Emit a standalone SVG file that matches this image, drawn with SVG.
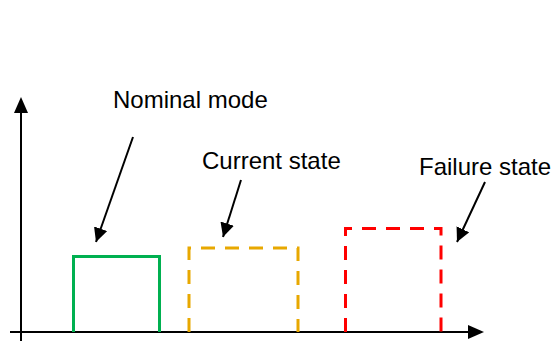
<svg xmlns="http://www.w3.org/2000/svg" width="552" height="341" viewBox="0 0 552 341">
<style>
.lbl{font-family:"Liberation Sans",Arial,sans-serif;font-size:24px;fill:#000}
.ax{stroke:#000;stroke-width:2;fill:none}
.ptr{stroke:#000;stroke-width:2;fill:none;marker-end:url(#ah)}
.box{fill:none;stroke-width:3}
</style>
<defs>
<marker id="ah" viewBox="0 0 10 10" refX="10" refY="5" markerWidth="7" markerHeight="7" orient="auto" markerUnits="strokeWidth">
<path d="M0,0 L10,5 L0,10 z" fill="#000"/>
</marker>
</defs>
<rect width="552" height="341" fill="#fff"/>
<g id="axes">
<path class="ax" d="M21,341 V110"/>
<path d="M21,97 L14,113 L28,113 z" fill="#000"/>
<path class="ax" d="M10,332 H471"/>
<path d="M484,332 L468,325 L468,339 z" fill="#000"/>
</g>
<g id="nominal-box">
<path class="box" stroke="#00B050" d="M73.5,332 V256.5 H159.5 V332"/>
</g>
<g id="current-box">
<path class="box" stroke="#E8A800" stroke-dasharray="14 10" d="M189,332 V248 H298 V332"/>
</g>
<g id="failure-box">
<path class="box" stroke="#FF0000" stroke-dasharray="14 10" d="M345.5,332 V228.5 H441 V332"/>
</g>
<g id="labels">
<text class="lbl" x="113" y="108">Nominal mode</text>
<text class="lbl" x="202" y="169">Current state</text>
<text class="lbl" x="419" y="175">Failure state</text>
</g>
<g id="connectors">
<path class="ptr" d="M133,137 L96,242"/>
<path class="ptr" d="M241,180 L223,237"/>
<path class="ptr" d="M485,182 L457,242"/>
</g>
</svg>
